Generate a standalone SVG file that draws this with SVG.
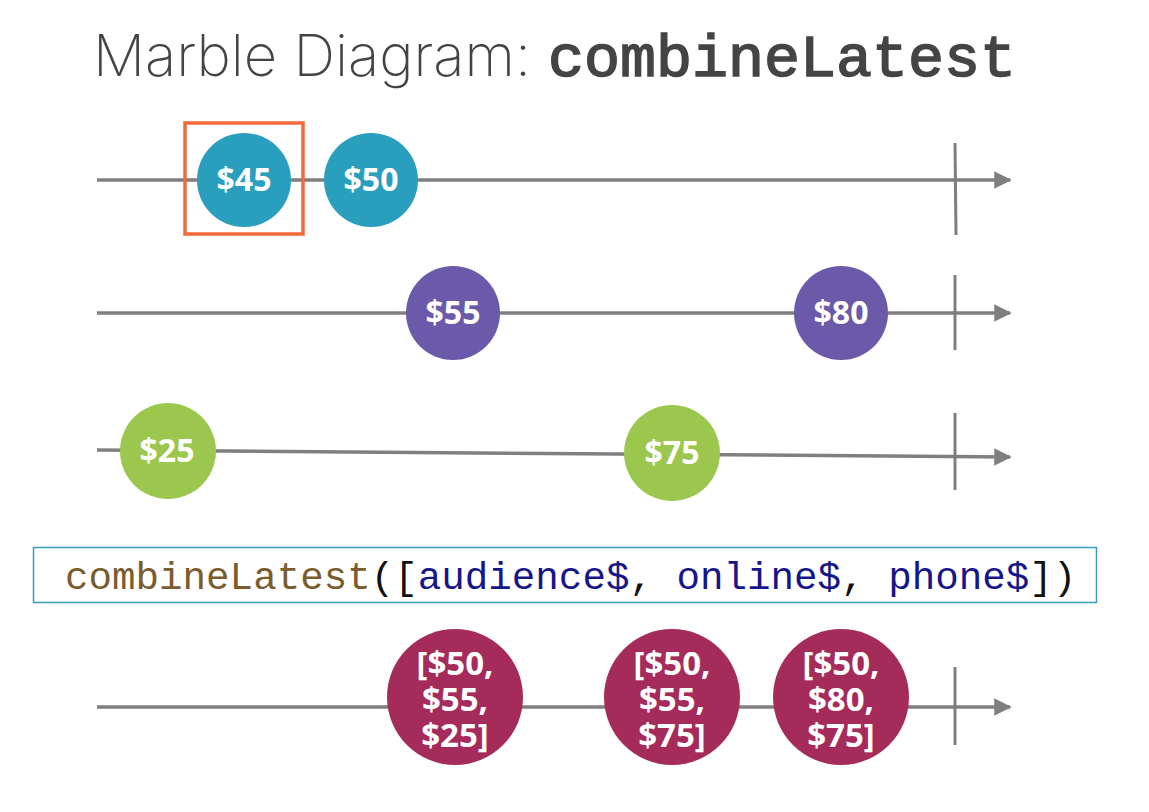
<svg xmlns="http://www.w3.org/2000/svg" width="1149" height="812" viewBox="0 0 1149 812">
  <defs>
    <marker id="arrow" viewBox="0 0 10 10" refX="9" refY="5" markerWidth="5" markerHeight="5" orient="auto" markerUnits="strokeWidth">
      <path d="M0,0 L10,5 L0,10 z" fill="#7f7f7f"/>
    </marker>
    <style>
      .axis { stroke: #7f7f7f; stroke-width: 3.5; fill: none; }
      .tick { stroke: #7f7f7f; stroke-width: 3; }
      .mlabel { font-family: "Open Sans", "DejaVu Sans", sans-serif; font-weight: 700; font-size: 32px; fill: #ffffff; text-anchor: middle; }
      .big { font-size: 33px; }
      .teal { fill: #2a9fbd; }
      .purple { fill: #6a5aa9; }
      .green { fill: #9cc74f; }
      .magenta { fill: #a52b5a; }
      .code { font-family: "Liberation Mono", "DejaVu Sans Mono", monospace; font-size: 39.2px; }
    </style>
  </defs>

  <rect width="1149" height="812" fill="#ffffff"/>

  <!-- title -->
  <text x="93" y="76" font-family="Inter, 'Noto Sans', sans-serif" font-weight="200" font-size="58" fill="#444444">Marble Diagram: <tspan x="548" font-family="'Liberation Mono', 'DejaVu Sans Mono', monospace" font-weight="400" font-size="60" stroke="#444444" stroke-width="1.6">combineLatest</tspan></text>

  <!-- timelines -->
  <g id="connectors">
    <line class="axis" x1="97" y1="180" x2="1010" y2="180" marker-end="url(#arrow)"/>
    <line class="tick" x1="955" y1="143" x2="956" y2="235"/>
    <line class="axis" x1="97" y1="313" x2="1010" y2="313" marker-end="url(#arrow)"/>
    <line class="tick" x1="955" y1="275" x2="955" y2="350"/>
    <line class="axis" x1="97" y1="450" x2="1010" y2="457" marker-end="url(#arrow)"/>
    <line class="tick" x1="955" y1="413" x2="955" y2="490"/>
    <line class="axis" x1="97" y1="707" x2="1010" y2="707" marker-end="url(#arrow)"/>
    <line class="tick" x1="955" y1="667" x2="955" y2="745"/>
  </g>

  <!-- audience$ -->
  <g id="m45">
    <circle class="teal" cx="244" cy="180" r="47"/>
    <text class="mlabel" x="244" y="191">$45</text>
  </g>
  <g id="highlight">
    <rect x="185" y="123" width="118" height="111" fill="none" stroke="#f26a3a" stroke-width="3.5"/>
  </g>
  <g id="m50">
    <circle class="teal" cx="371" cy="180" r="47"/>
    <text class="mlabel" x="371" y="191">$50</text>
  </g>

  <!-- online$ -->
  <g id="m55">
    <circle class="purple" cx="453" cy="313" r="47"/>
    <text class="mlabel" x="453" y="324">$55</text>
  </g>
  <g id="m80">
    <circle class="purple" cx="841" cy="313" r="47"/>
    <text class="mlabel" x="841" y="324">$80</text>
  </g>

  <!-- phone$ -->
  <g id="m25">
    <circle class="green" cx="168" cy="451" r="48"/>
    <text class="mlabel" x="167" y="462">$25</text>
  </g>
  <g id="m75">
    <circle class="green" cx="672" cy="453" r="48"/>
    <text class="mlabel" x="672" y="464">$75</text>
  </g>

  <!-- operator -->
  <g id="operator">
    <rect x="33.5" y="547.5" width="1063" height="55" fill="#ffffff" stroke="#3a9dbb" stroke-width="1.5"/>
    <text class="code" x="65" y="589"><tspan fill="#7a5c2e">combineLatest</tspan><tspan fill="#111111">([</tspan><tspan fill="#16168a">audience$</tspan><tspan fill="#111111">, </tspan><tspan fill="#16168a">online$</tspan><tspan fill="#111111">, </tspan><tspan fill="#16168a">phone$</tspan><tspan fill="#111111">])</tspan></text>
  </g>

  <!-- combined output -->
  <g id="c1">
    <circle class="magenta" cx="455" cy="697" r="68"/>
    <text class="mlabel big" y="675"><tspan x="455">[$50,</tspan><tspan x="455" dy="36">$55,</tspan><tspan x="455" dy="36">$25]</tspan></text>
  </g>
  <g id="c2">
    <circle class="magenta" cx="672" cy="697" r="68"/>
    <text class="mlabel big" y="675"><tspan x="672">[$50,</tspan><tspan x="672" dy="36">$55,</tspan><tspan x="672" dy="36">$75]</tspan></text>
  </g>
  <g id="c3">
    <circle class="magenta" cx="841" cy="697" r="68"/>
    <text class="mlabel big" y="675"><tspan x="841">[$50,</tspan><tspan x="841" dy="36">$80,</tspan><tspan x="841" dy="36">$75]</tspan></text>
  </g>
</svg>
